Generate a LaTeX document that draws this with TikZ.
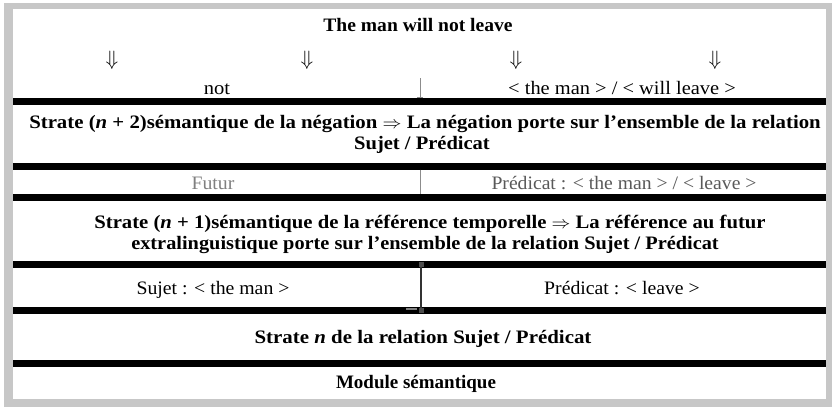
\documentclass[tikz,border=0pt]{standalone}
\usepackage{graphicx}
\usepackage{fontspec}
\setmainfont{Liberation Serif}
\newcommand{\hs}[2]{\scalebox{#1}[1]{#2}}
\begin{document}
\begin{tikzpicture}[x=1pt,y=-1pt,
  txt/.style={inner sep=0pt,anchor=base,font=\fontsize{19}{21}\selectfont},
  btxt/.style={txt,font=\fontsize{19}{21}\selectfont\bfseries},
  arr/.style={inner sep=0pt,font=\fontsize{22}{24}\selectfont},
  bar/.style={fill=black},
  sep/.style={draw=black!45,line width=0.9pt}]
\useasboundingbox (0,0) rectangle (832,407);
\fill[white] (0,0) rectangle (832,407);
\fill[black!22] (4,3) rectangle (832,407);
\fill[white] (13,9) rectangle (826,399);
% thick bars
\foreach \yc in {101,166,197,264,310,363}{
  \fill[bar] (13,\yc-3.5) rectangle (826,\yc+3.5);
}
% row 1
\node[btxt] (title) at (418,31) {\hs{1.03}{The man will not leave}};
\node[arr] (a1) at (112,60) {$\Downarrow$};
\node[arr] (a2) at (307,60) {$\Downarrow$};
\node[arr] (a3) at (516,60) {$\Downarrow$};
\node[arr] (a4) at (715,60) {$\Downarrow$};
\node[txt] (not) at (217,94) {\hs{1.08}{not}};
\node[txt] (tmwl) at (622,94) {\hs{1.075}{< the man > / < will leave >}};
\draw[sep] (420,78) -- (420,97.5);
\draw[sep] (417,97.5) -- (423,97.5);
% row 2
\node[btxt] (s2a) at (425,128) {\hs{1.095}{Strate (\textit{n} + 2)sémantique de la négation $\Rightarrow$ La négation porte sur l'ensemble de la relation}};
\node[btxt] (s2b) at (422,149) {\hs{1.08}{Sujet / Prédicat}};
% row 3
\node[txt,text=black!50] (futur) at (213,189) {\hs{1.04}{Futur}};
\node[txt,text=black!65] (pred1) at (624,189) {\hs{1.035}{Prédicat : < the man > / < leave >}};
\draw[sep] (420,169.5) -- (420,193.5);
% row 4
\node[btxt] (s1a) at (430,228) {\hs{1.09}{Strate (\textit{n} + 1)sémantique de la référence temporelle $\Rightarrow$ La référence au futur}};
\node[btxt] (s1b) at (425,249) {\hs{1.07}{extralinguistique porte sur l'ensemble de la relation Sujet / Prédicat}};
% row 5
\node[txt] (sujet) at (213,294) {\hs{1.04}{Sujet : < the man >}};
\node[txt] (pred2) at (622,294) {\hs{1.04}{Prédicat : < leave >}};
\draw[black!80,line width=1.1pt] (421,264) -- (421,310);
\fill[black!70] (418.5,261.5) rectangle (423.5,266.5);
\fill[black!70] (418.5,307.5) rectangle (423.5,312.5);
\draw[black!50,line width=1.2pt] (406,309) -- (417,309);
% row 6
\node[btxt] (sn) at (423,343) {\hs{1.10}{Strate \textit{n} de la relation Sujet / Prédicat}};
% row 7
\node[btxt] (mod) at (416,388) {Module sémantique};
\end{tikzpicture}
\end{document}
